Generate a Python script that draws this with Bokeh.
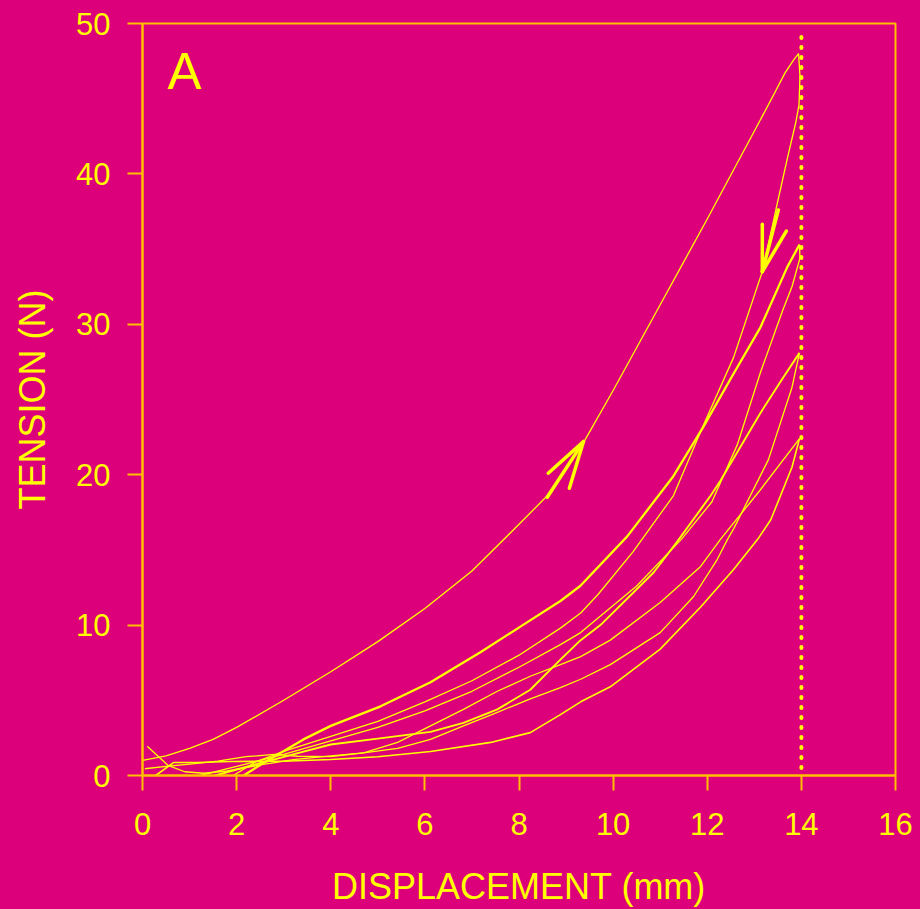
from bokeh.plotting import figure
from bokeh.embed import file_html
from bokeh.resources import INLINE
from bokeh.models import FixedTicker
from bokeh.core.properties import value

BG = "#DC007A"
AXIS = "#FFBE00"
YEL = "#FFFF00"
FONT = "Liberation Sans"

# ---- data ----
x_ticks = [0, 2, 4, 6, 8, 10, 12, 14, 16]
y_ticks = [0, 10, 20, 30, 40, 50]

# cycle 1 (peak 48 N)
load1_x = [0, 0.5, 1, 1.5, 2, 3, 4, 5, 6, 7, 8, 8.6, 9.4, 10, 11, 12, 13.13, 13.45, 13.65, 13.84, 13.94]
load1_y = [1.0, 1.3, 1.8, 2.4, 3.2, 5.0, 6.9, 8.9, 11.1, 13.6, 16.7, 18.6, 22.3, 25.6, 31.3, 37.0, 43.6, 45.5, 46.7, 47.6, 48.0]
unload1_x = [13.94, 13.97, 13.95, 13.88, 13.7, 13.5, 13.17, 12.56, 11.92, 11.28, 10.43, 9.67, 9.31, 8.88, 8.0, 7.0, 6.0, 5.0, 4.0, 3.0, 2.4, 1.93]
unload1_y = [48.0, 46.5, 44.6, 43.4, 41.0, 38.2, 33.5, 27.8, 23.3, 18.6, 14.9, 12.0, 10.8, 9.8, 8.0, 6.3, 4.9, 3.6, 2.6, 1.6, 0.9, 0.0]

# cycle 2 (peak 35 N)
load2_x = [2.15, 2.5, 2.93, 3.42, 4.0, 5.06, 6.12, 7.18, 8.03, 8.88, 9.3, 10.3, 11.28, 11.92, 12.5, 13.13, 13.7, 13.96]
load2_y = [0.0, 0.7, 1.5, 2.4, 3.3, 4.6, 6.2, 8.2, 9.9, 11.6, 12.6, 15.9, 19.9, 23.2, 26.4, 29.8, 33.8, 35.3]
unload2_x = [13.96, 13.97, 13.8, 13.6, 13.13, 12.64, 12.1, 11.45, 10.5, 9.31, 8.88, 8.0, 7.0, 6.0, 5.0, 4.0, 3.0, 2.0, 1.23]
unload2_y = [35.3, 34.4, 32.5, 30.9, 26.8, 22.0, 18.2, 15.7, 12.6, 9.5, 8.7, 7.2, 5.6, 4.3, 3.2, 2.3, 1.4, 0.6, 0.0]

# cycle 3 (peak 28 N)
load3_x = [1.55, 2.0, 2.6, 3.2, 4.0, 5.0, 6.12, 6.82, 7.54, 8.24, 8.88, 9.31, 9.73, 10.86, 11.35, 12.07, 12.28, 13.13, 13.6, 13.96]
load3_y = [0.0, 0.4, 0.9, 1.4, 2.06, 2.45, 2.9, 3.5, 4.4, 5.7, 7.7, 9.0, 10.0, 13.5, 15.5, 18.6, 19.6, 24.1, 26.4, 28.1]
unload3_x = [13.96, 13.8, 13.3, 12.56, 12.43, 12.2, 11.71, 11.0, 9.94, 9.31, 8.88, 8.24, 7.54, 6.82, 6.12, 5.42, 4.7, 4.0, 3.3, 2.8, 2.2, 1.6, 1.0, 0.5, 0.05]
unload3_y = [28.1, 25.8, 21.0, 16.4, 15.7, 14.3, 11.9, 9.5, 7.37, 6.4, 5.84, 5.1, 4.2, 3.3, 2.4, 1.8, 1.5, 1.25, 1.28, 1.4, 1.25, 0.95, 0.75, 0.6, 0.45]

# cycle 4 (peak 22.5 N)
load4_x = [0.1, 0.55, 0.9, 1.3, 1.8, 2.5, 3.2, 4.0, 4.7, 5.42, 6.12, 6.82, 7.54, 8.24, 8.88, 9.31, 9.94, 11.0, 11.86, 12.28, 13.13, 13.96]
load4_y = [1.95, 0.65, 0.25, 0.15, 0.3, 0.7, 1.05, 1.3, 1.5, 2.2, 3.3, 4.4, 5.6, 6.6, 7.37, 7.9, 9.0, 11.5, 13.9, 15.7, 19.0, 22.4]
unload4_x = [13.96, 13.8, 13.35, 13.07, 12.56, 11.86, 11.0, 9.94, 9.31, 8.88, 8.24, 7.4, 6.12, 5.0, 4.0, 3.0, 1.87, 1.17, 0.66, 0.28]
unload4_y = [22.4, 20.5, 17.0, 15.7, 13.7, 11.2, 8.4, 5.9, 4.9, 4.05, 2.85, 2.2, 1.6, 1.25, 1.06, 0.95, 0.93, 0.86, 0.86, 0.0]

# arrow heads (tip, arm ends, shaft start)
arrow_up = {"tip": (9.37, 22.2), "arms": [(8.62, 20.1), (9.07, 19.1)], "tail": (8.6, 18.5)}
arrow_down = {"tip": (13.17, 33.5), "arms": [(13.17, 36.65), (13.68, 36.2)], "tail": (13.51, 37.6)}

limit_x = 14
limit_y = [0.5, 49.7]

panel_label = "A"
panel_x = [0.53]
panel_y = [46.8]

x_title = "DISPLACEMENT (mm)"
y_title = "TENSION (N)"

# ---- figure ----
p = figure(width=920, height=909, x_range=(0, 16), y_range=(0, 50),
           output_backend="svg", toolbar_location=None,
           min_border_left=142, min_border_right=25,
           min_border_top=23, min_border_bottom=133,
           background_fill_color=BG, border_fill_color=BG)
p.grid.visible = False
p.outline_line_color = AXIS
p.outline_line_width = 2

for ax, ticks in ((p.xaxis, x_ticks), (p.yaxis, y_ticks)):
    ax.ticker = FixedTicker(ticks=ticks)
    ax.axis_line_color = AXIS
    ax.axis_line_width = 2
    ax.major_tick_line_color = AXIS
    ax.major_tick_line_width = 2
    ax.major_tick_out = 15
    ax.major_tick_in = 0
    ax.minor_tick_line_color = None
    ax.major_label_text_color = YEL
    ax.major_label_text_font = FONT
    ax.major_label_text_font_size = "31px"
    ax.axis_label_text_color = YEL
    ax.axis_label_text_font = FONT
    ax.axis_label_text_font_size = "36px"
    ax.axis_label_text_font_style = "normal"

p.xaxis.axis_label = x_title
p.yaxis.axis_label = y_title
p.xaxis.major_label_standoff = 22
p.yaxis.major_label_standoff = 17
p.xaxis.axis_label_standoff = 28
p.yaxis.axis_label_standoff = 20

thin = 1.3
thick = 2.3
curves = [
    (load1_x, load1_y, thin), (unload1_x, unload1_y, thin),
    (load2_x, load2_y, thick), (unload2_x, unload2_y, thin),
    (load3_x, load3_y, 1.9), (unload3_x, unload3_y, thin),
    (load4_x, load4_y, thin), (unload4_x, unload4_y, 1.6),
]
for cx, cy, w in curves:
    p.line(cx, cy, line_color=YEL, line_width=w, line_join="round")

for arr in (arrow_up, arrow_down):
    tx, ty = arr["tip"]
    ends = arr["arms"] + [arr["tail"]]
    p.segment(x0=[tx] * len(ends), y0=[ty] * len(ends),
              x1=[e[0] for e in ends], y1=[e[1] for e in ends],
              line_color=YEL, line_width=3.5, line_cap="round")

p.line([limit_x, limit_x], limit_y, line_color=YEL, line_width=4,
       line_dash="1 9", line_cap="round")

p.text(x=panel_x, y=panel_y, text=[panel_label], text_color=YEL,
       text_font=value(FONT), text_font_size="51px",
       text_align="left", text_baseline="alphabetic")

html = file_html(p, INLINE)
html = html.replace("</head>", "<style>html, body { background-color: %s; }</style></head>" % BG, 1)
open("out.html", "w").write(html)
